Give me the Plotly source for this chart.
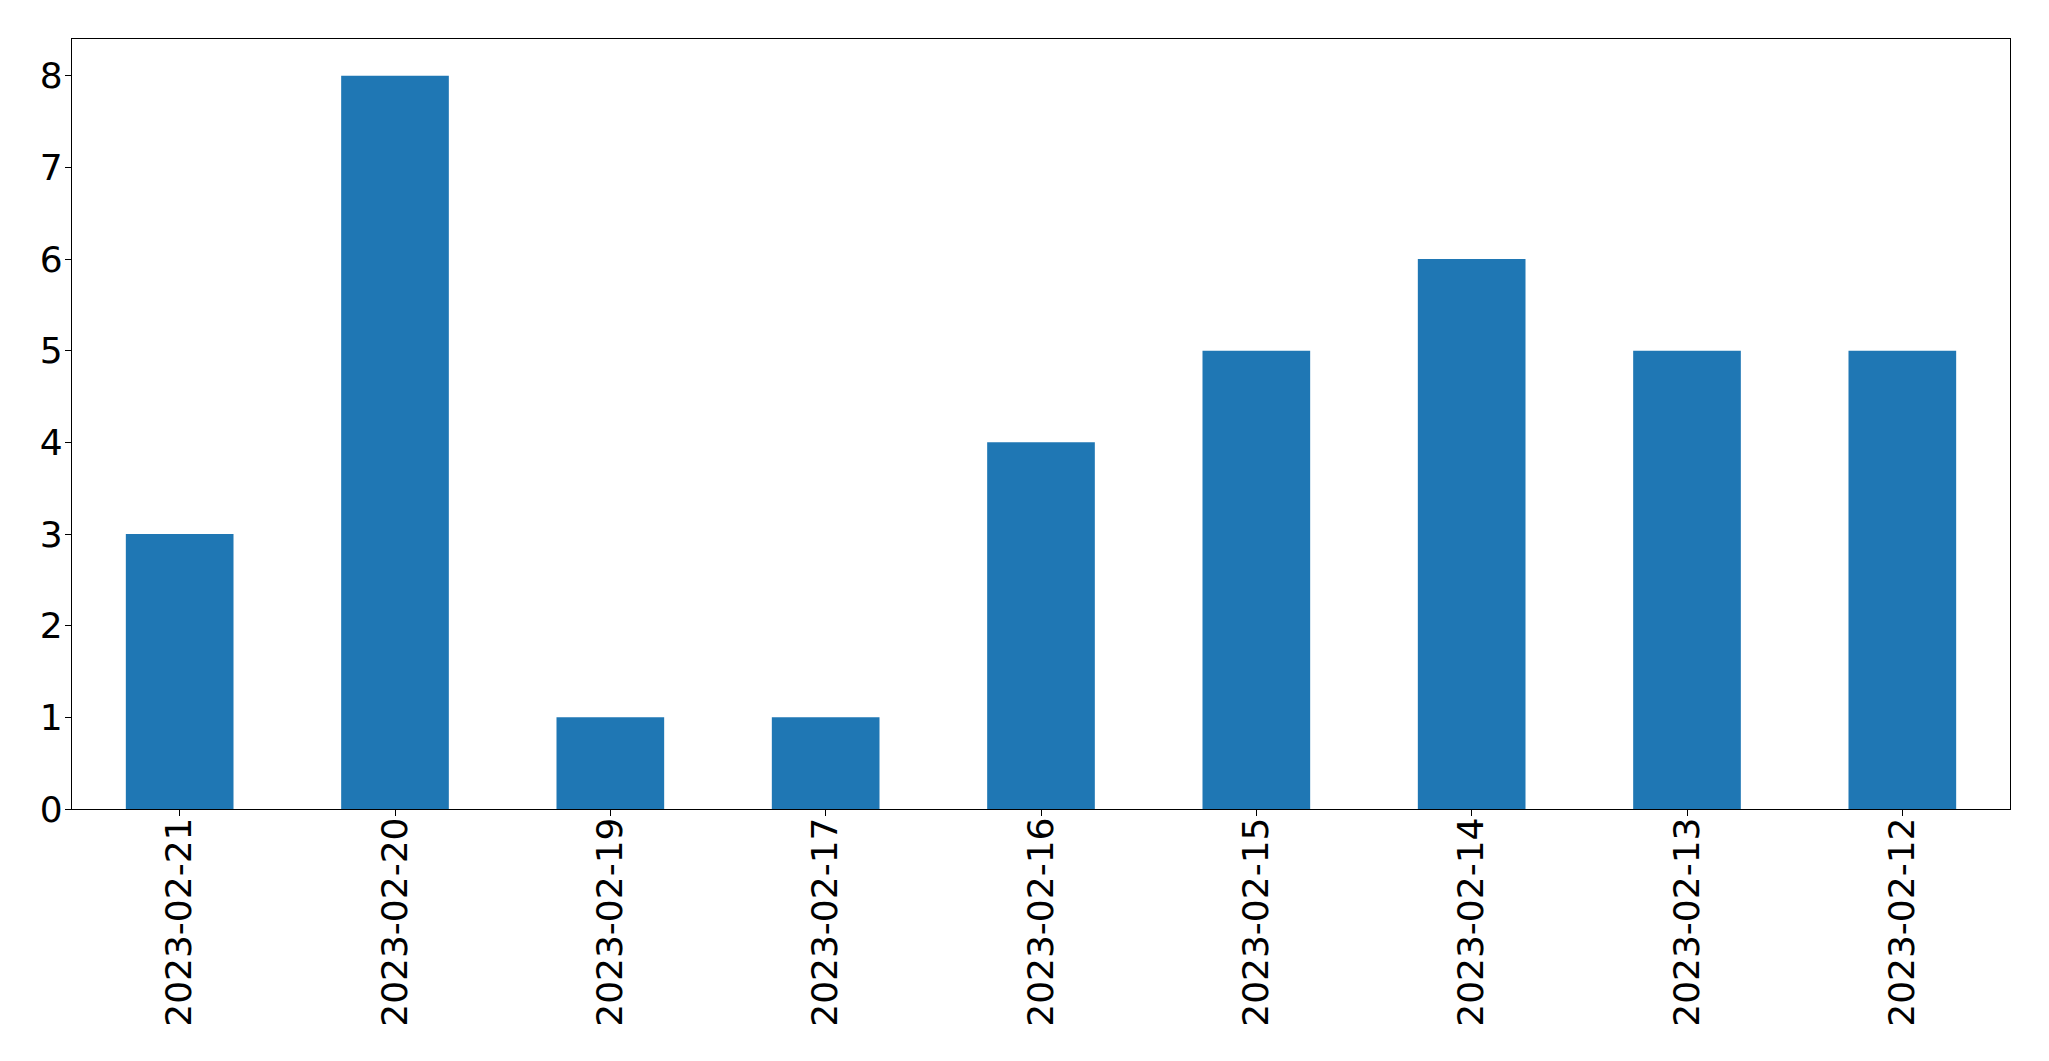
import plotly.graph_objects as go

dates = ["2023-02-21", "2023-02-20", "2023-02-19", "2023-02-17", "2023-02-16",
         "2023-02-15", "2023-02-14", "2023-02-13", "2023-02-12"]
counts = [3, 8, 1, 1, 4, 5, 6, 5, 5]
y_ticks = [0, 1, 2, 3, 4, 5, 6, 7, 8]

fig = go.Figure(go.Bar(x=dates, y=counts, marker=dict(color="#1f77b4", line=dict(width=0)),
                       width=0.5))

fig.update_layout(
    width=2033, height=1045,
    margin=dict(l=64, r=31, t=31, b=244),
    plot_bgcolor="white", paper_bgcolor="white",
    font=dict(family="DejaVu Sans", size=36, color="black"),
    showlegend=False,
)
fig.update_xaxes(type="category", range=[-0.5, 8.5], tickangle=-90,
                 showline=True, linecolor="black", linewidth=1.3, mirror=True,
                 ticks="outside", ticklen=6, tickcolor="black", showgrid=False,
                 tickfont=dict(size=36), ticklabelstandoff=-13)
fig.update_yaxes(range=[0, 8.4], tickvals=y_ticks,
                 showline=True, linecolor="black", linewidth=1.3, mirror=True,
                 ticks="outside", ticklen=6, tickcolor="black", showgrid=False,
                 zeroline=False, tickfont=dict(size=36), ticklabelstandoff=-5)

fig.write_html("out.html")
